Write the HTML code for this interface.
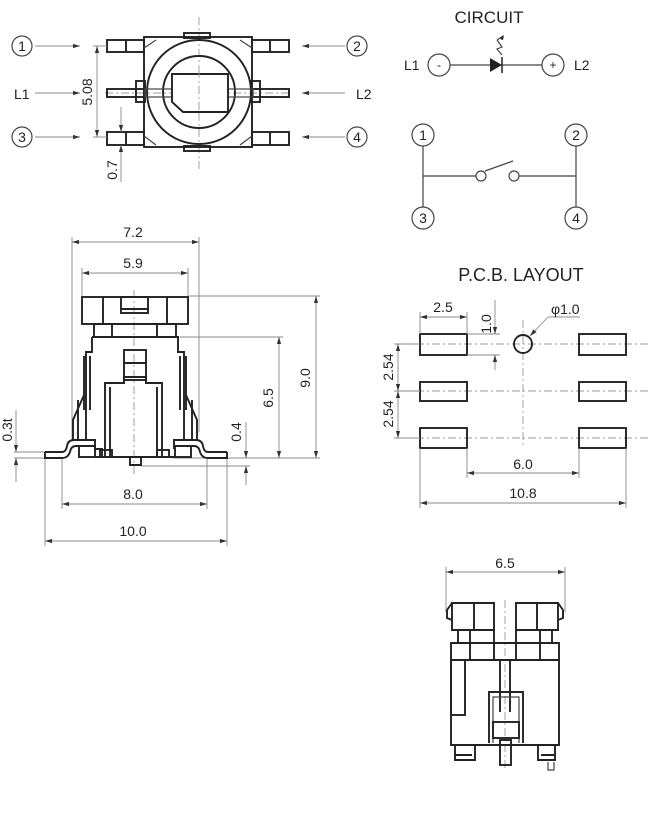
<!DOCTYPE html>
<html><head><meta charset="utf-8"><style>
html,body{margin:0;padding:0;background:#fff}
svg{display:block}
text{font-family:"Liberation Sans",sans-serif;fill:#222}
.o{fill:none;stroke:#222;stroke-width:1.9}
.t{fill:none;stroke:#444;stroke-width:1.2}
.e{fill:none;stroke:#888;stroke-width:0.9}
.c{fill:none;stroke:#999;stroke-width:0.9;stroke-dasharray:8 3 2 3}
.d{font-size:14px}
</style></head><body>
<svg width="657" height="817" viewBox="0 0 657 817" xmlns="http://www.w3.org/2000/svg">
<defs>
<marker id="a" viewBox="0 0 10 6" refX="10" refY="3" markerWidth="8" markerHeight="5" orient="auto-start-reverse"><path d="M0,0L10,3L0,6z" fill="#333"/></marker>
</defs>

<!-- TOP VIEW -->
<g>
<circle cx="22" cy="46" r="10" class="t"/><text x="22" y="51" class="d" text-anchor="middle">1</text>
<circle cx="357" cy="46" r="10" class="t"/><text x="357" y="51" class="d" text-anchor="middle">2</text>
<circle cx="22" cy="137" r="10" class="t"/><text x="22" y="142" class="d" text-anchor="middle">3</text>
<circle cx="357" cy="137" r="10" class="t"/><text x="357" y="142" class="d" text-anchor="middle">4</text>
<text x="14" y="99" class="d">L1</text><text x="356" y="99" class="d">L2</text>
<g class="e" stroke="#555">
<line x1="35" y1="46" x2="80" y2="46" marker-end="url(#a)"/>
<line x1="35" y1="93" x2="80" y2="93" marker-end="url(#a)"/>
<line x1="35" y1="137" x2="80" y2="137" marker-end="url(#a)"/>
<line x1="345" y1="46" x2="302" y2="46" marker-end="url(#a)"/>
<line x1="345" y1="93" x2="302" y2="93" marker-end="url(#a)"/>
<line x1="345" y1="137" x2="302" y2="137" marker-end="url(#a)"/>
</g>
<line x1="199" y1="17" x2="199" y2="172" class="c"/>
<line x1="105" y1="93" x2="292" y2="93" class="c"/>
<rect x="144" y="37" width="108" height="110" class="o"/>
<rect x="184" y="33" width="26" height="5" class="o"/>
<rect x="184" y="146" width="26" height="5" class="o"/>
<rect x="107" y="40" width="37" height="12" class="o"/><line x1="126" y1="40" x2="126" y2="52" class="o"/>
<rect x="252" y="40" width="37" height="12" class="o"/><line x1="270" y1="40" x2="270" y2="52" class="o"/>
<rect x="107" y="132" width="37" height="13" class="o"/><line x1="126" y1="132" x2="126" y2="145" class="o"/>
<rect x="252" y="132" width="37" height="13" class="o"/><line x1="270" y1="132" x2="270" y2="145" class="o"/>
<rect x="107" y="89" width="37" height="8" class="o"/>
<rect x="252" y="89" width="37" height="8" class="o"/>
<rect x="136" y="81" width="9" height="21" class="o"/>
<rect x="251" y="81" width="9" height="21" class="o"/>
<path d="M144,48 L156,40 M252,48 L240,40 M144,136 L156,145 M252,136 L240,145" class="t"/>
<circle cx="199" cy="92" r="52" class="o"/>
<circle cx="199" cy="92" r="36" class="o"/>
<rect x="145" y="89" width="108" height="8" class="t"/>
<path d="M172,74 H228 V112 H183 L172,102 Z" class="o" style="fill:#fff"/>
<line x1="199" y1="70" x2="199" y2="115" class="c"/>
<line x1="93" y1="46" x2="107" y2="46" class="e"/><line x1="93" y1="137" x2="107" y2="137" class="e"/>
<line x1="97" y1="46" x2="97" y2="137" class="e" stroke="#555" marker-start="url(#a)" marker-end="url(#a)"/>
<text transform="translate(92,92) rotate(-90)" class="d" text-anchor="middle">5.08</text>
<line x1="121" y1="107" x2="121" y2="132" class="e" stroke="#555" marker-end="url(#a)"/>
<line x1="121" y1="182" x2="121" y2="145" class="e" stroke="#555" marker-end="url(#a)"/>
<text transform="translate(117,170) rotate(-90)" class="d" text-anchor="middle">0.7</text>
</g>

<!-- CIRCUIT -->
<text x="489" y="23" font-size="17" text-anchor="middle">CIRCUIT</text>
<text x="404" y="70" class="d">L1</text>
<circle cx="439" cy="65" r="11" class="t"/><text x="439" y="69" font-size="12" text-anchor="middle">-</text>
<line x1="450" y1="65" x2="542" y2="65" class="t"/>
<path d="M490,58 L502,65 L490,72 Z" fill="#222"/><line x1="502" y1="57" x2="502" y2="73" stroke="#222" stroke-width="1.5"/>
<path d="M502,55 L497,49 L502,47 L497,40 M497,40 L503,36" class="t"/><path d="M504,35 L500,39 L503,40 Z" fill="#222"/>
<circle cx="553" cy="65" r="11" class="t"/><text x="553" y="69" font-size="12" text-anchor="middle">+</text>
<text x="574" y="70" class="d">L2</text>

<circle cx="423" cy="135" r="11" class="t"/><text x="423" y="140" class="d" text-anchor="middle">1</text>
<circle cx="576" cy="135" r="11" class="t"/><text x="576" y="140" class="d" text-anchor="middle">2</text>
<circle cx="423" cy="218" r="11" class="t"/><text x="423" y="223" class="d" text-anchor="middle">3</text>
<circle cx="576" cy="218" r="11" class="t"/><text x="576" y="223" class="d" text-anchor="middle">4</text>
<path d="M423,146 V207 M576,146 V207 M423,176 H476 M519,176 H576 M485,171 L513,161" class="t"/>
<circle cx="481" cy="176" r="5" class="t"/><circle cx="514" cy="176" r="5" class="t"/>

<!-- SIDE VIEW -->
<g>
<path d="M72,237 V440 M199,237 V432 M82,268 V297 M188,268 V297" class="e"/>
<line x1="72" y1="242" x2="199" y2="242" class="e" stroke="#555" marker-start="url(#a)" marker-end="url(#a)"/>
<text x="133" y="237" class="d" text-anchor="middle">7.2</text>
<line x1="82" y1="273" x2="188" y2="273" class="e" stroke="#555" marker-start="url(#a)" marker-end="url(#a)"/>
<text x="133" y="268" class="d" text-anchor="middle">5.9</text>
<path d="M189,296 H320 M180,337 H283 M173,458 H320 M141,466 H250" class="e"/>
<line x1="316" y1="296" x2="316" y2="458" class="e" stroke="#555" marker-start="url(#a)" marker-end="url(#a)"/>
<text transform="translate(310,378) rotate(-90)" class="d" text-anchor="middle">9.0</text>
<line x1="279" y1="337" x2="279" y2="458" class="e" stroke="#555" marker-start="url(#a)" marker-end="url(#a)"/>
<text transform="translate(273,398) rotate(-90)" class="d" text-anchor="middle">6.5</text>
<line x1="246" y1="422" x2="246" y2="458" class="e" stroke="#555" marker-end="url(#a)"/>
<line x1="246" y1="485" x2="246" y2="466" class="e" stroke="#555" marker-end="url(#a)"/>
<text transform="translate(241,432) rotate(-90)" class="d" text-anchor="middle">0.4</text>
<line x1="16" y1="410" x2="16" y2="452" class="e" stroke="#555" marker-end="url(#a)"/>
<line x1="16" y1="482" x2="16" y2="458" class="e" stroke="#555" marker-end="url(#a)"/>
<path d="M14,452 H45 M14,458 H45" class="e"/>
<text transform="translate(12,430) rotate(-90)" class="d" text-anchor="middle">0.3t</text>
<path d="M45,458 V546 M227,458 V546 M62,458 V509 M207,458 V509" class="e"/>
<line x1="62" y1="504" x2="207" y2="504" class="e" stroke="#555" marker-start="url(#a)" marker-end="url(#a)"/>
<text x="133" y="499" class="d" text-anchor="middle">8.0</text>
<line x1="45" y1="541" x2="227" y2="541" class="e" stroke="#555" marker-start="url(#a)" marker-end="url(#a)"/>
<text x="133" y="536" class="d" text-anchor="middle">10.0</text>
<line x1="134" y1="290" x2="134" y2="475" class="c"/>
<rect x="82" y="297" width="106" height="27" class="o"/>
<path d="M103,297 V324 M167,297 V324" class="o"/>
<rect x="121" y="297" width="27" height="16" class="o"/><line x1="121" y1="309" x2="148" y2="309" class="o"/>
<rect x="94" y="324" width="82" height="13" class="o"/>
<path d="M112,324 V337 M157,324 V337" class="o"/>
<path d="M92,337 H178 V352 H184 V440 M92,337 V352 H86 V440" class="o"/>
<path d="M84,356 V410 M90,356 V410 M186,356 V410 M180,356 V410" class="o"/>
<path d="M84,395 L73,420 V440 M78,400 L78,440 M186,395 L197,420 V440 M192,400 L192,440" class="o"/>
<rect x="124" y="350" width="22" height="30" class="o"/><line x1="124" y1="363" x2="146" y2="363" class="o"/>
<path d="M105,457 V383 H124 V377 H146 V383 H162 V457" class="o"/>
<path d="M110,457 V387 M157,457 V387" class="o"/>
<path d="M45,452 H62 Q66,452 67,446 Q68,440 74,440 H95 V449 M45,452 V458 H62 Q68,458 70,452 Q71,446 76,446 H95" class="o"/>
<path d="M227,452 H208 Q204,452 203,446 Q202,440 196,440 H174 V449 M227,452 V458 H208 Q202,458 200,452 Q199,446 194,446 H174" class="o"/>
<rect x="79" y="446" width="16" height="11" class="o"/>
<rect x="175" y="446" width="16" height="11" class="o"/>
<path d="M95,449 H102 V457 H174" class="o"/>
<path d="M95,457 H130 V465 H141 V457" class="o"/>
<rect x="100" y="450" width="12" height="7" class="o"/>
<rect x="157" y="450" width="12" height="7" class="o"/>
</g>

<!-- PCB LAYOUT -->
<text x="521" y="281" font-size="18" text-anchor="middle">P.C.B. LAYOUT</text>
<path d="M400,344 H650 M400,391 H650 M400,438 H650 M523,320 V448" class="c"/>
<rect x="420" y="334" width="47" height="21" class="o"/>
<rect x="420" y="382" width="47" height="19" class="o"/>
<rect x="420" y="428" width="47" height="20" class="o"/>
<rect x="579" y="334" width="47" height="21" class="o"/>
<rect x="579" y="382" width="47" height="19" class="o"/>
<rect x="579" y="428" width="47" height="20" class="o"/>
<circle cx="523" cy="344" r="9" class="o"/>
<path d="M420,312 V334 M467,312 V334 M467,334 H500 M467,355 H500" class="e"/>
<line x1="420" y1="317" x2="467" y2="317" class="e" stroke="#555" marker-start="url(#a)" marker-end="url(#a)"/>
<text x="443" y="312" class="d" text-anchor="middle">2.5</text>
<line x1="495" y1="300" x2="495" y2="334" class="e" stroke="#555" marker-end="url(#a)"/>
<line x1="495" y1="370" x2="495" y2="355" class="e" stroke="#555" marker-end="url(#a)"/>
<text transform="translate(491,324) rotate(-90)" class="d" text-anchor="middle">1.0</text>
<path d="M580,317 H548" class="e"/>
<line x1="548" y1="317" x2="530" y2="336" class="e" stroke="#555" marker-end="url(#a)"/>
<text x="551" y="314" class="d">φ1.0</text>
<path d="M394,344 H420 M394,391 H420 M394,438 H420" class="e"/>
<line x1="398" y1="344" x2="398" y2="391" class="e" stroke="#555" marker-start="url(#a)" marker-end="url(#a)"/>
<line x1="398" y1="391" x2="398" y2="438" class="e" stroke="#555" marker-start="url(#a)" marker-end="url(#a)"/>
<text transform="translate(393,367) rotate(-90)" class="d" text-anchor="middle">2.54</text>
<text transform="translate(393,414) rotate(-90)" class="d" text-anchor="middle">2.54</text>
<path d="M420,448 V508 M626,448 V508 M467,448 V478 M579,448 V478" class="e"/>
<line x1="467" y1="473" x2="579" y2="473" class="e" stroke="#555" marker-start="url(#a)" marker-end="url(#a)"/>
<text x="523" y="469" class="d" text-anchor="middle">6.0</text>
<line x1="420" y1="503" x2="626" y2="503" class="e" stroke="#555" marker-start="url(#a)" marker-end="url(#a)"/>
<text x="523" y="498" class="d" text-anchor="middle">10.8</text>

<!-- BOTTOM VIEW -->
<g>
<path d="M446,567 V612 M565,567 V612" class="e"/>
<line x1="446" y1="572" x2="565" y2="572" class="e" stroke="#555" marker-start="url(#a)" marker-end="url(#a)"/>
<text x="505" y="568" class="d" text-anchor="middle">6.5</text>
<line x1="505" y1="600" x2="505" y2="770" class="c"/>
<path d="M452,603 H494 V630 H452 Z M474,603 V630 M452,603 L447,610 V618 L452,620" class="o"/>
<path d="M516,603 H558 V630 H516 Z M537,603 V630 M558,603 L563,610 V618 L558,620" class="o"/>
<path d="M458,630 V643 M470,630 V660 M494,630 V660 M516,630 V660 M540,630 V660 M552,630 V643 M498,643 H512" class="o"/>
<path d="M451,643 H559 V745 H451 Z" class="o"/>
<path d="M451,660 H559" class="o"/>
<rect x="451" y="660" width="14" height="55" class="o"/>
<path d="M500,660 V712 M510,660 V712" class="o"/>
<path d="M489,743 V692 H523 V743" class="o"/>
<path d="M493,743 V697 H519 V743" class="t"/>
<rect x="493" y="722" width="26" height="16" class="o"/>
<rect x="500" y="740" width="11" height="25" class="o"/>
<path d="M455,745 V760 H475 V745 M455,755 H472 M538,745 V760 H555 V745 M541,755 H555" class="o"/>
<path d="M548,762 V770 H554 V762" class="t"/>
</g>
</svg>
</body></html>
